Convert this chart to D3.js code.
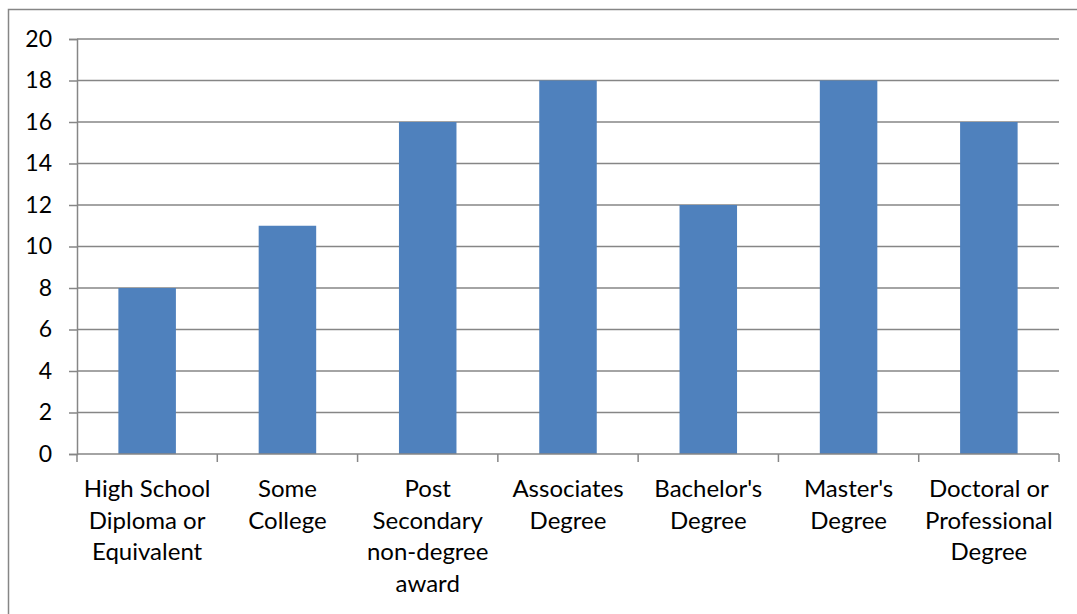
<html>
<head>
    <script src="https://d3js.org/d3.v7.min.js"></script>
</head>
<body style="margin:0">

<script>
var categories = [
	["High School", "Diploma or", "Equivalent"],
	["Some", "College"],
	["Post", "Secondary", "non-degree", "award"],
	["Associates", "Degree"],
	["Bachelor's", "Degree"],
	["Master's", "Degree"],
	["Doctoral or", "Professional", "Degree"]
];
var values = [8, 11, 16, 18, 12, 18, 16];
var yTicks = [0, 2, 4, 6, 8, 10, 12, 14, 16, 18, 20];

var w = 1077, h = 614;
var mLeft = 77, mRight = 1059, mTop = 39, mBottom = 454;
var grey = "#868686";
var font = "Lato, 'Open Sans', sans-serif";

var svg = d3.select("body").append("svg").attr("width", w).attr("height", h);

// outer chart border (runs off the picture at right and bottom)
svg.append("rect").attr("x", 8.5).attr("y", 9.5).attr("width", w).attr("height", h)
	.attr("fill", "white").attr("stroke", grey).attr("stroke-width", 1.5);

var idx = d3.range(categories.length);
var xScale = d3.scaleBand().domain(idx).range([mLeft, mRight]).paddingInner(0.59).paddingOuter(0.295);
var yScale = d3.scaleLinear().domain([0, 20]).range([mBottom, mTop]);
var step = xScale.step();

// gridlines
svg.append("g").selectAll("line").data(yTicks.filter(function(d){ return d > 0; })).enter().append("line")
	.attr("x1", mLeft).attr("x2", mRight)
	.attr("y1", function(d){ return yScale(d); }).attr("y2", function(d){ return yScale(d); })
	.attr("stroke", grey).attr("stroke-width", 1.5);

// y axis
var yAxis = d3.axisLeft(yScale).tickValues(yTicks).tickSize(8).tickPadding(17);
var yg = svg.append("g").attr("transform", "translate(" + mLeft + ",0)").call(yAxis);
yg.select(".domain").attr("stroke", grey).attr("stroke-width", 1.5);
yg.selectAll(".tick line").attr("stroke", grey).attr("stroke-width", 1.5);
yg.selectAll(".tick text").attr("font-family", font).attr("font-size", "23px").attr("fill", "black");

// bars
svg.append("g").selectAll("rect").data(values).enter().append("rect")
	.attr("x", function(d, i){ return xScale(i); })
	.attr("width", xScale.bandwidth())
	.attr("y", function(d){ return yScale(d); })
	.attr("height", function(d){ return yScale(0) - yScale(d); })
	.attr("fill", "#4f81bd");

// x axis line and category ticks
svg.append("line").attr("x1", mLeft).attr("x2", mRight).attr("y1", mBottom).attr("y2", mBottom)
	.attr("stroke", grey).attr("stroke-width", 1.5);
svg.append("g").selectAll("line").data(d3.range(categories.length + 1)).enter().append("line")
	.attr("x1", function(d){ return mLeft + d * step; }).attr("x2", function(d){ return mLeft + d * step; })
	.attr("y1", mBottom).attr("y2", mBottom + 8)
	.attr("stroke", grey).attr("stroke-width", 1.5);

// category labels
var labels = svg.append("g").selectAll("text").data(categories).enter().append("text")
	.attr("font-family", font).attr("font-size", "24px").attr("fill", "black")
	.attr("text-anchor", "middle")
	.attr("transform", function(d, i){ return "translate(" + (xScale(i) + xScale.bandwidth() / 2) + "," + 497 + ")"; });
labels.selectAll("tspan").data(function(d){ return d; }).enter().append("tspan")
	.attr("x", 0).attr("y", function(d, j){ return j * 31.5; })
	.text(function(d){ return d; });
</script>

</body>
</html>
